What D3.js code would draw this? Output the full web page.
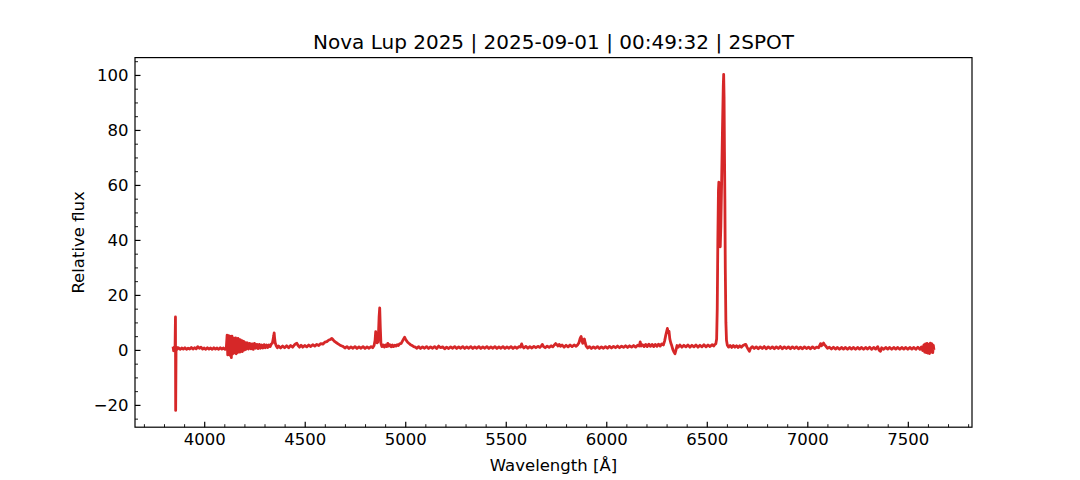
<!DOCTYPE html>
<html>
<head>
<meta charset="utf-8">
<script src="https://cdn.jsdelivr.net/npm/d3@7"></script>
<style>
  html, body { margin: 0; padding: 0; background: #fff; }
  svg { display: block; font-family: "DejaVu Sans", sans-serif; }
</style>
</head>
<body>
<svg id="chart" width="1080" height="480"></svg>
<script>
const title = "Nova Lup 2025 | 2025-09-01 | 00:49:32 | 2SPOT";
const xLabel = "Wavelength [Å]";
const yLabel = "Relative flux";
const xTicks = [4000, 4500, 5000, 5500, 6000, 6500, 7000, 7500];
const yTicks = [-20, 0, 20, 40, 60, 80, 100];

const wavelength = [
  3845,3848,3851,3853,3855,3857,3858,3860,3862,3865,
  3872,3880,3888,3896,3904,3912,3920,3928,3936,3944,
  3952,3960,3968,3976,3984,3992,4000,4008,4016,4024,
  4032,4040,4048,4056,4064,4072,4080,4088,4096,4104,
  4110,4114,4117,4120,4123,4126,4129,4132,4135,4138,
  4141,4144,4147,4150,4153,4156,4159,4162,4165,4168,
  4171,4174,4177,4180,4183,4186,4189,4192,4195,4198,
  4201,4204,4208,4214,4220,4226,4232,4238,4244,4250,
  4256,4262,4268,4274,4280,4286,4292,4298,4304,4310,
  4316,4322,4328,4334,4339,4343,4346,4348,4350,4353,
  4358,4364,4370,4380,4390,4400,4410,4420,4430,4440,
  4450,4455,4461,4467,4474,4482,4490,4500,4510,4520,
  4530,4540,4550,4560,4570,4580,4590,4600,4610,4620,
  4628,4635,4642,4650,4658,4666,4674,4682,4690,4700,
  4710,4720,4730,4740,4750,4760,4770,4780,4790,4800,
  4810,4820,4830,4838,4845,4850,4853,4856,4860,4864,
  4867,4870,4873,4876,4879,4884,4890,4896,4902,4908,
  4913,4918,4924,4930,4936,4942,4948,4954,4960,4966,
  4972,4980,4986,4992,4997,5001,5006,5012,5018,5026,
  5034,5042,5050,5058,5066,5076,5086,5096,5106,5116,
  5126,5136,5146,5156,5166,5176,5186,5196,5206,5216,
  5226,5236,5246,5256,5266,5276,5286,5296,5306,5316,
  5326,5336,5346,5356,5366,5376,5386,5396,5406,5416,
  5426,5436,5446,5456,5466,5476,5486,5496,5506,5516,
  5526,5536,5546,5556,5566,5574,5579,5583,5590,5600,
  5610,5620,5630,5640,5650,5660,5670,5677,5682,5688,
  5696,5706,5716,5726,5734,5742,5748,5754,5760,5766,
  5772,5780,5790,5800,5810,5820,5830,5840,5850,5858,
  5864,5870,5875,5879,5883,5887,5891,5895,5900,5908,
  5916,5926,5936,5946,5956,5966,5976,5986,5996,6006,
  6016,6026,6036,6046,6056,6066,6076,6086,6096,6106,
  6116,6126,6136,6146,6156,6164,6169,6173,6180,6188,
  6196,6204,6212,6220,6228,6236,6244,6252,6260,6268,
  6276,6284,6290,6295,6300,6304,6308,6312,6316,6321,
  6326,6331,6337,6342,6347,6352,6358,6366,6376,6386,
  6396,6406,6416,6426,6436,6446,6456,6466,6476,6486,
  6496,6506,6516,6526,6534,6540,6545,6549,6552,6555,
  6558,6560,6562,6565,6567,6570,6574,6578,6582,6584,
  6586,6588,6590,6592,6595,6598,6602,6608,6616,6624,
  6632,6640,6648,6656,6664,6672,6680,6688,6694,6700,
  6706,6712,6718,6726,6736,6746,6756,6766,6776,6786,
  6796,6806,6816,6826,6836,6846,6856,6866,6876,6886,
  6896,6906,6916,6926,6936,6946,6956,6966,6976,6986,
  6996,7006,7016,7026,7036,7046,7056,7062,7066,7071,
  7076,7081,7086,7092,7100,7110,7120,7130,7140,7150,
  7160,7170,7180,7190,7200,7210,7220,7230,7240,7250,
  7260,7270,7280,7290,7300,7310,7320,7330,7340,7350,
  7358,7364,7370,7380,7390,7400,7410,7420,7430,7440,
  7450,7460,7470,7480,7490,7500,7510,7520,7530,7540,
  7550,7560,7568,7574,7580,7584,7588,7592,7596,7600,
  7604,7608,7612,7616,7620,7624,7627,7630
];

const flux = [
  1.2,-0.3,1.0,0.2,0.8,12.0,-22.0,0.3,1.0,0.2,
  0.8,0.2,0.7,0.3,0.8,0.2,0.6,0.3,0.9,0.3,
  0.8,0.4,1.2,0.6,1.0,0.3,0.7,0.2,0.8,0.3,
  0.7,0.2,0.8,0.3,0.7,0.2,0.8,0.3,0.7,0.2,
  0.8,5.4,-1.8,5.2,-1.0,5.0,-2.0,4.8,-2.8,5.0,
  -1.5,4.4,-1.2,4.2,-0.8,4.4,-1.4,4.0,-1.0,4.2,
  -0.6,3.8,-0.8,3.6,-0.4,3.4,-0.6,3.2,-0.2,3.0,
  0.0,2.6,0.2,2.6,0.3,2.4,0.4,2.2,0.2,2.4,
  0.6,2.0,0.5,2.0,0.6,1.8,0.7,1.9,0.8,1.8,
  0.9,1.8,1.2,2.2,2.4,4.0,5.2,6.2,4.5,2.6,
  1.5,0.8,1.4,0.7,1.4,0.8,1.5,0.8,1.6,1.0,
  1.9,2.2,2.4,1.6,1.0,1.7,1.0,1.6,1.1,1.8,
  1.2,1.9,1.4,2.0,1.6,2.3,2.1,2.8,3.0,3.6,
  3.8,4.2,3.6,3.0,2.6,2.2,1.8,1.5,1.3,0.7,
  1.2,0.5,1.1,0.6,1.2,0.5,1.1,0.6,1.2,0.5,
  1.1,0.6,1.2,0.8,1.6,3.5,6.6,5.0,2.6,2.8,
  6.0,12.0,15.3,8.0,2.5,1.2,1.8,1.0,1.8,1.2,
  2.4,1.4,1.9,1.1,1.8,1.2,1.7,1.4,1.9,1.6,
  2.2,2.4,3.2,4.0,4.6,4.0,3.4,2.8,2.4,1.9,
  1.6,1.2,1.0,0.6,1.2,0.5,1.1,0.6,1.2,0.5,
  1.1,0.6,1.2,0.5,1.4,0.8,1.1,0.4,1.0,0.5,
  1.1,0.6,1.2,0.5,1.1,0.6,1.2,0.5,1.1,0.6,
  1.2,0.5,1.1,0.6,1.2,0.5,1.1,0.6,1.2,0.5,
  1.1,0.6,1.2,0.5,1.1,0.6,1.2,0.5,1.1,0.6,
  1.2,0.5,1.1,0.6,1.2,1.0,2.2,1.4,0.7,1.3,
  0.6,1.2,0.7,1.3,0.8,1.3,0.9,1.5,2.0,1.2,
  0.8,1.4,0.9,1.5,1.1,1.8,2.3,1.9,1.4,2.0,
  1.3,1.8,1.0,1.7,1.1,1.8,1.2,1.8,1.3,1.9,
  2.6,4.2,4.9,3.4,2.4,3.4,4.0,2.6,1.4,0.7,
  1.2,0.5,1.1,0.6,1.2,0.5,1.1,0.6,1.2,0.6,
  1.3,0.7,1.3,0.8,1.4,0.8,1.4,0.9,1.5,0.9,
  1.5,1.0,1.6,1.0,1.7,1.4,2.9,1.4,1.9,1.2,
  2.0,1.2,2.1,1.3,2.0,1.2,2.0,1.3,2.1,1.4,
  2.2,1.8,3.2,5.0,6.6,7.8,6.2,6.8,4.0,2.5,
  1.5,0.2,-0.8,-1.4,0.0,1.6,1.0,1.8,1.0,1.7,
  1.1,1.8,1.0,1.7,1.1,1.8,1.0,1.7,1.1,1.9,
  1.1,1.8,1.2,1.9,1.4,2.0,2.2,4.0,15.0,40.0,
  58.0,61.0,52.0,40.0,37.5,45.0,62.0,80.0,96.0,100.2,
  92.0,72.0,55.0,30.0,10.0,3.5,1.8,1.0,1.6,0.9,
  1.6,1.0,1.5,0.9,1.5,1.0,1.6,1.9,2.0,1.0,
  0.2,-0.5,0.6,1.2,0.5,1.1,0.4,1.1,0.5,1.2,
  0.4,1.1,0.5,1.1,0.4,1.1,0.5,1.2,0.4,1.1,
  0.5,1.1,0.4,1.1,0.5,1.1,0.4,1.0,0.4,1.1,
  0.5,1.0,0.4,1.1,0.5,1.0,0.8,1.6,2.3,1.5,
  2.0,2.5,1.8,1.4,0.6,1.0,0.3,1.0,0.3,0.9,
  0.2,0.9,0.3,0.9,0.2,0.9,0.3,0.9,0.2,0.9,
  0.3,0.9,0.2,0.9,0.3,1.0,0.2,0.9,0.3,1.2,
  -0.2,-0.5,0.8,0.2,0.9,0.3,0.9,0.2,0.9,0.3,
  0.9,0.2,0.9,0.3,0.9,0.2,0.9,0.3,0.9,0.2,
  1.0,0.2,1.1,-0.2,1.8,-0.8,2.2,-1.0,2.4,-1.2,
  2.0,-1.3,2.5,-0.8,2.2,-1.0,1.6,0.0
];

const data = wavelength.map((w, i) => ({ w, f: flux[i] }));

const svg = d3.select("#chart");
const m = { left: 135, right: 972, top: 57.6, bottom: 427.2 };

const xExt = d3.extent(wavelength);
const xPad = (xExt[1] - xExt[0]) * 0.05;
const yExt = d3.extent(flux);
const yPad = (yExt[1] - yExt[0]) * 0.05;

const x = d3.scaleLinear().domain([xExt[0] - xPad, xExt[1] + xPad]).range([m.left, m.right]);
const y = d3.scaleLinear().domain([yExt[0] - yPad, yExt[1] + yPad]).range([m.bottom, m.top]);

svg.append("defs").append("clipPath").attr("id", "clip")
  .append("rect").attr("x", m.left).attr("y", m.top)
  .attr("width", m.right - m.left).attr("height", m.bottom - m.top);

const line = d3.line().x(d => x(d.w)).y(d => y(d.f));
svg.append("path").datum(data)
  .attr("clip-path", "url(#clip)")
  .attr("fill", "none")
  .attr("stroke", "#d62728")
  .attr("stroke-width", 2.8)
  .attr("stroke-linejoin", "round")
  .attr("d", line);

// minor ticks
const xMinor = d3.range(3700, 7801, 100).filter(v => v % 500 !== 0 && v >= x.domain()[0] && v <= x.domain()[1]);
const yMinor = d3.range(-25, 106, 5).filter(v => v % 20 !== 0 && v >= y.domain()[0] && v <= y.domain()[1]);

svg.append("g").attr("transform", `translate(0,${m.bottom})`)
  .call(d3.axisBottom(x).tickValues(xMinor).tickSize(-3).tickFormat(""))
  .call(g => g.select(".domain").remove())
  .call(g => g.selectAll("line").attr("stroke", "#000").attr("stroke-width", 0.9));
svg.append("g").attr("transform", `translate(${m.left},0)`)
  .call(d3.axisLeft(y).tickValues(yMinor).tickSize(-3).tickFormat(""))
  .call(g => g.select(".domain").remove())
  .call(g => g.selectAll("line").attr("stroke", "#000").attr("stroke-width", 0.9));

// major ticks
const fmtY = d => d < 0 ? "\u2212" + Math.abs(d) : String(d);
svg.append("g").attr("transform", `translate(0,${m.bottom})`)
  .call(d3.axisBottom(x).tickValues(xTicks).tickSize(-5.5).tickPadding(6).tickFormat(d3.format("d")))
  .call(g => g.select(".domain").remove())
  .call(g => g.selectAll("line").attr("stroke", "#000").attr("stroke-width", 1.2))
  .call(g => g.selectAll("text").attr("fill", "#000").attr("font-size", "16.5px").attr("font-family", "DejaVu Sans"));
svg.append("g").attr("transform", `translate(${m.left},0)`)
  .call(d3.axisLeft(y).tickValues(yTicks).tickSize(-5.5).tickPadding(6.5).tickFormat(fmtY))
  .call(g => g.select(".domain").remove())
  .call(g => g.selectAll("line").attr("stroke", "#000").attr("stroke-width", 1.2))
  .call(g => g.selectAll("text").attr("fill", "#000").attr("font-size", "16.5px").attr("font-family", "DejaVu Sans"));

// frame
svg.append("rect")
  .attr("x", m.left).attr("y", m.top)
  .attr("width", m.right - m.left).attr("height", m.bottom - m.top)
  .attr("fill", "none").attr("stroke", "#000").attr("stroke-width", 1.2);

// texts
svg.append("text").attr("x", (m.left + m.right) / 2).attr("y", 48.5)
  .attr("text-anchor", "middle").attr("font-size", "20px").attr("fill", "#000")
  .text(title);
svg.append("text").attr("x", (m.left + m.right) / 2).attr("y", 471)
  .attr("text-anchor", "middle").attr("font-size", "16.5px").attr("fill", "#000")
  .text(xLabel);
svg.append("text")
  .attr("transform", `translate(84,${(m.top + m.bottom) / 2}) rotate(-90)`)
  .attr("text-anchor", "middle").attr("font-size", "16.5px").attr("fill", "#000")
  .text(yLabel);
</script>
</body>
</html>
